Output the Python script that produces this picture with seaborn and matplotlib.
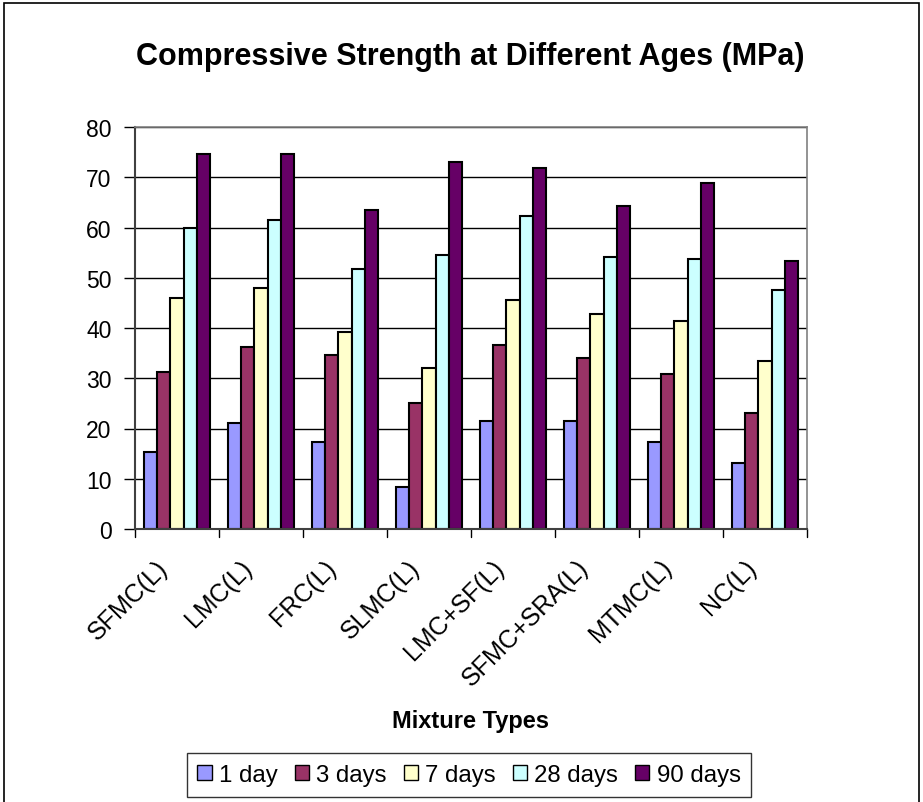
import matplotlib
matplotlib.use("Agg")
import matplotlib.pyplot as plt
import matplotlib.transforms as mtransforms
import seaborn as sns
import pandas as pd
from matplotlib.patches import Rectangle

# Mixture types and compressive strength (MPa) at each curing age
mixtures = ["SFMC(L)", "LMC(L)", "FRC(L)", "SLMC(L)", "LMC+SF(L)",
            "SFMC+SRA(L)", "MTMC(L)", "NC(L)"]
ages = ["1 day", "3 days", "7 days", "28 days", "90 days"]
day1 = [15.4, 21.1, 17.3, 8.3, 21.5, 21.5, 17.3, 13.1]
day3 = [31.2, 36.3, 34.7, 25.0, 36.7, 34.0, 30.8, 23.1]
day7 = [45.9, 47.9, 39.3, 32.1, 45.6, 42.8, 41.3, 33.5]
day28 = [60.0, 61.5, 51.7, 54.5, 62.2, 54.1, 53.7, 47.5]
day90 = [74.7, 74.7, 63.4, 73.1, 71.9, 64.2, 68.9, 53.3]
yticks = [0, 10, 20, 30, 40, 50, 60, 70, 80]

colors = ["#9999FF", "#993366", "#FFFFCC", "#CCFFFF", "#660066"]

rows = []
for age, vals in zip(ages, [day1, day3, day7, day28, day90]):
    for m, v in zip(mixtures, vals):
        rows.append({"Mixture": m, "Age": age, "Strength": v})
df = pd.DataFrame(rows)

sns.set_theme(style="white")
plt.rcParams["font.family"] = ["Liberation Sans", "DejaVu Sans"]
for key in ["text.color", "axes.labelcolor", "xtick.color", "ytick.color"]:
    plt.rcParams[key] = "black"

W, H = 923, 803
fig = plt.figure(figsize=(W / 100, H / 100), dpi=100)
ax = fig.add_axes([135 / W, 1 - 530 / H, (807 - 135) / W, (530 - 128) / H])

sns.barplot(data=df, x="Mixture", y="Strength", hue="Age",
            hue_order=ages, order=mixtures, palette=colors,
            width=0.774, edgecolor="black", linewidth=1.5,
            saturation=1, ax=ax, legend=True, errorbar=None)

ax.set_xlim(-0.5, len(mixtures) - 0.5)
ax.set_ylim(0, 80)
ax.set_yticks(yticks)
ax.set_yticklabels([str(t) for t in yticks], fontsize=16.5)
ax.yaxis.grid(True, color="black", linewidth=1)
ax.set_axisbelow(True)

# category labels centred on groups, boundary ticks drawn between groups
ax.set_xticks(range(len(mixtures)))
ax.set_xticklabels(mixtures, rotation=45, ha="right", rotation_mode="anchor",
                   fontsize=18)
ax.tick_params(axis="x", length=0, pad=10)
shift = mtransforms.ScaledTranslation(-21 / 100, -12 / 100, fig.dpi_scale_trans)
for lab in ax.get_xticklabels():
    lab.set_transform(lab.get_transform() + shift)
for b in [i - 0.5 for i in range(len(mixtures) + 1)]:
    ax.plot([b, b], [0, -1.6], color="black", linewidth=1, clip_on=False)
ax.tick_params(axis="y", direction="out", length=8, width=1, color="black",
               left=True, pad=9)

for s in ["top", "right"]:
    ax.spines[s].set_color("#808080")
    ax.spines[s].set_linewidth(1.2)
for s in ["left", "bottom"]:
    ax.spines[s].set_color("#404040")
    ax.spines[s].set_linewidth(1.5)

ax.set_ylabel("")
ax.set_xlabel("Mixture Types", fontsize=17, fontweight="bold", labelpad=0)
ax.xaxis.set_label_coords(0.5, (530 - 722) / (530 - 128))
ax.xaxis.label.set_va("center")

fig.text(470 / W, 1 - 57 / H, "Compressive Strength at Different Ages (MPa)",
         ha="center", va="center", fontsize=22, fontweight="bold")

handles, labels = ax.get_legend_handles_labels()
ax.get_legend().remove()
leg = fig.legend(handles, labels, loc="center", ncol=5,
                 bbox_to_anchor=(469 / W, 1 - 776 / H), fontsize=17.3,
                 frameon=True, fancybox=False, edgecolor="black",
                 handlelength=0.6, handleheight=0.6, handletextpad=0.3,
                 columnspacing=0.7, borderpad=0.45)
leg.get_frame().set_linewidth(1)
for h in leg.legend_handles:
    h.set_edgecolor("black")
    h.set_linewidth(1)

# outer chart border
fig.patches.append(Rectangle((4 / W, -0.01), (919 - 4) / W, 1 - 4 / H + 0.01,
                             transform=fig.transFigure, fill=False,
                             edgecolor="black", linewidth=1.2))

fig.savefig("out.png", dpi=100)
